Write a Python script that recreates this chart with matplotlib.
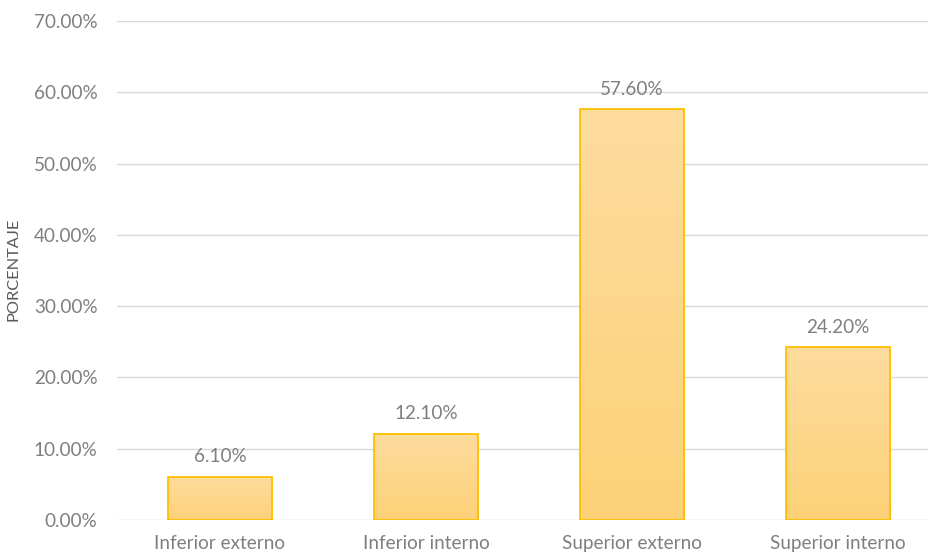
import numpy as np
import matplotlib.pyplot as plt
from matplotlib.ticker import FuncFormatter

plt.rcParams['font.family'] = ['Lato', 'DejaVu Sans']

categories = ['Inferior externo', 'Inferior interno', 'Superior externo', 'Superior interno']
values = [6.10, 12.10, 57.60, 24.20]
yticks = [0, 10, 20, 30, 40, 50, 60, 70]

text_gray = '#7f7f7f'
grid_gray = '#d9d9d9'
edge = '#ffc000'
top_col = np.array([0xfe, 0xdc, 0x9e]) / 255.
bot_col = np.array([0xfd, 0xd1, 0x78]) / 255.

fig = plt.figure(figsize=(9.29, 5.57), dpi=100)
ax = fig.add_axes([117 / 929, 37 / 557, 824 / 929, 499 / 557])

x = np.arange(len(categories))
bars = ax.bar(x, values, width=0.505, facecolor='none', edgecolor=edge, linewidth=1.3, zorder=3)

# vertical gradient inside each bar
grad = np.linspace(0, 1, 256)[:, None, None]
grad_img = bot_col * (1 - grad) + top_col * grad
for b in bars:
    x0, y0 = b.get_x(), b.get_y()
    w, h = b.get_width(), b.get_height()
    im = ax.imshow(grad_img, extent=(x0, x0 + w, y0, y0 + h), origin='lower',
                   aspect='auto', zorder=2, interpolation='bilinear')
    im.set_clip_path(b)

ax.set_xlim(-0.5, len(categories) - 0.5)
ax.set_ylim(0, 70)
ax.set_yticks(yticks)
ax.yaxis.set_major_formatter(FuncFormatter(lambda v, p: f'{v:.2f}%'))
ax.set_xticks(x)
ax.set_xticklabels(categories)

ax.grid(axis='y', color=grid_gray, linewidth=1, zorder=0)
for s in ax.spines.values():
    s.set_visible(False)
ax.tick_params(axis='both', length=0, colors=text_gray, labelsize=13.6)
ax.tick_params(axis='y', pad=14)
ax.tick_params(axis='x', pad=11)

for xi, v in zip(x, values):
    ax.annotate(f'{v:.2f}%', (xi, v), xytext=(0, 8.5), textcoords='offset points',
                ha='center', va='bottom', color=text_gray, fontsize=13.6)

fig.text(14 / 929, 1 - 269 / 557, 'PORCENTAJE', rotation=90, ha='center', va='center',
         color='#595959', fontsize=11.8)

fig.savefig('out.png', dpi=100)
